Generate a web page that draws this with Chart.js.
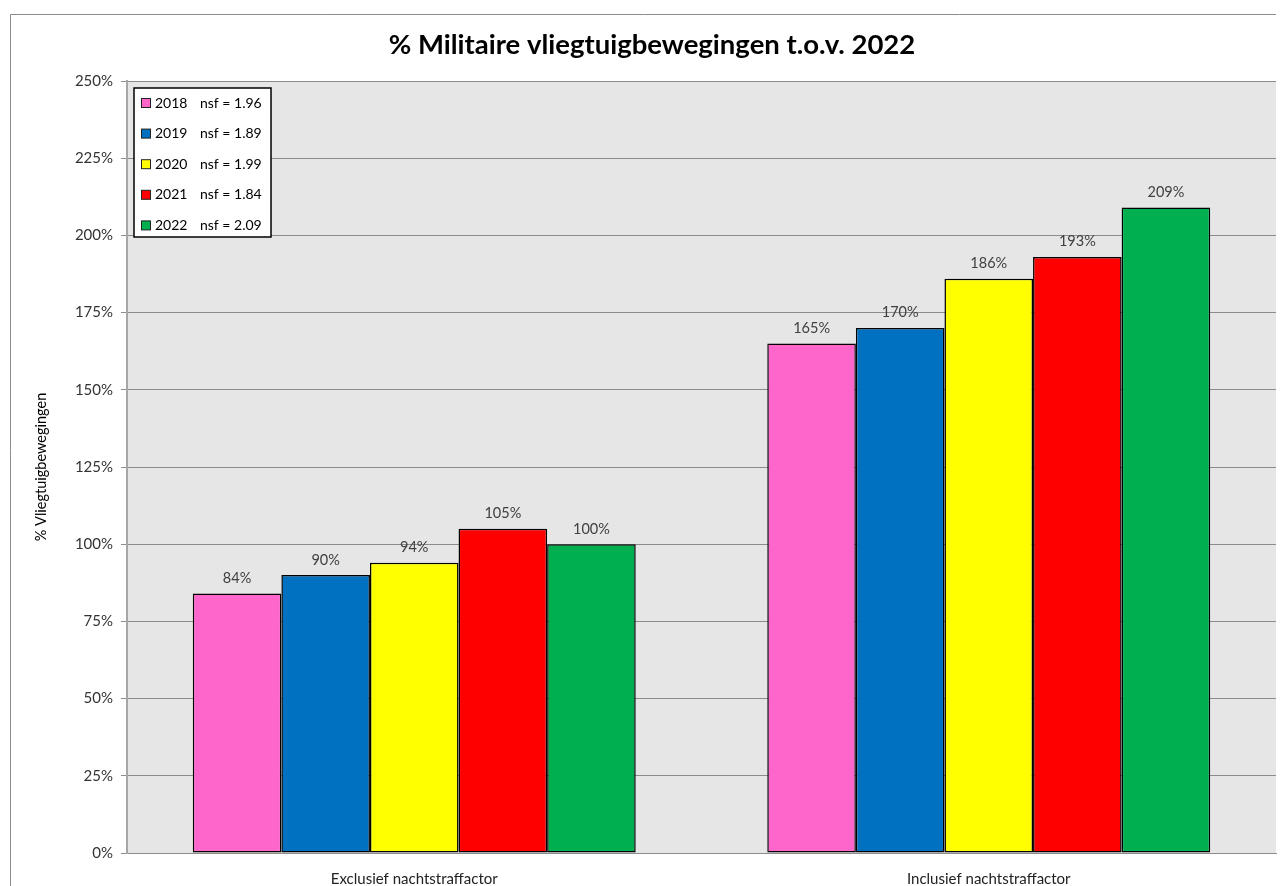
<!DOCTYPE html>
<html>
<head>
<meta charset="utf-8">
<script src="https://cdn.jsdelivr.net/npm/chart.js@4/dist/chart.umd.min.js"></script>
<style>
  body { margin: 0; background: #fff; }
  #wrap { width: 1282px; height: 886px; }
</style>
</head>
<body>
<div id="wrap"><canvas id="militaryChart" width="1282" height="886"></canvas></div>
<script>
// Data
const categories = ['Exclusief nachtstraffactor', 'Inclusief nachtstraffactor'];
const years = ['2018', '2019', '2020', '2021', '2022'];
const nsf = ['1.96', '1.89', '1.99', '1.84', '2.09'];
const exclusief = [84, 90, 94, 105, 100];
const inclusief = [165, 170, 186, 193, 209];
const yTicks = [0, 25, 50, 75, 100, 125, 150, 175, 200, 225, 250];

const colors = ['#FF66CC', '#0070C0', '#FFFF00', '#FF0000', '#00B050'];
const FONT = 'Lato, "Open Sans", sans-serif';

const datasets = years.map((y, i) => ({
    label: y + '   nsf = ' + nsf[i],
    data: [exclusief[i], inclusief[i]],
    backgroundColor: colors[i],
    borderColor: '#000',
    borderWidth: 1.5,
    borderSkipped: false,
    categoryPercentage: 0.771,
    barPercentage: 1.0
}));

// plot background + outer frame (top and left edges only are visible)
const framePlugin = {
    id: 'frame',
    beforeDraw(chart) {
        const { ctx, chartArea: a } = chart;
        ctx.save();
        ctx.strokeStyle = '#8c8c8c';
        ctx.lineWidth = 1;
        ctx.beginPath();
        ctx.moveTo(10.5, 886);
        ctx.lineTo(10.5, 14.5);
        ctx.lineTo(1276, 14.5);
        ctx.stroke();
        ctx.fillStyle = '#E6E6E6';
        ctx.fillRect(a.left, a.top, a.right - a.left, a.bottom - a.top);
        ctx.restore();
    }
};

// value labels above the bars
const valueLabels = {
    id: 'valueLabels',
    afterDatasetsDraw(chart) {
        const ctx = chart.ctx;
        ctx.save();
        ctx.font = '14.5px ' + FONT;
        ctx.fillStyle = '#404040';
        ctx.textAlign = 'center';
        ctx.textBaseline = 'bottom';
        chart.data.datasets.forEach((ds, i) => {
            chart.getDatasetMeta(i).data.forEach((bar, j) => {
                ctx.fillText(ds.data[j] + '%', bar.x, bar.y - 8);
            });
        });
        ctx.restore();
    }
};

// boxed legend inside the plot area
const boxLegend = {
    id: 'boxLegend',
    afterDraw(chart) {
        const { ctx, chartArea: a } = chart;
        const x = a.left + 7, y = a.top + 7, w = 137, h = 149;
        ctx.save();
        ctx.fillStyle = '#fff';
        ctx.fillRect(x, y, w, h);
        ctx.strokeStyle = '#000';
        ctx.lineWidth = 1.5;
        ctx.strokeRect(x, y, w, h);
        ctx.font = '14px ' + FONT;
        ctx.textBaseline = 'middle';
        chart.data.datasets.forEach((ds, i) => {
            const cy = y + 15 + i * 30.6;
            ctx.fillStyle = ds.backgroundColor;
            ctx.fillRect(x + 7.5, cy - 4.5, 9, 9);
            ctx.strokeStyle = '#222';
            ctx.lineWidth = 1;
            ctx.strokeRect(x + 7.5, cy - 4.5, 9, 9);
            ctx.fillStyle = '#000';
            ctx.fillText(years[i], x + 21, cy);
            ctx.fillText('nsf = ' + nsf[i], x + 66, cy);
        });
        ctx.restore();
    }
};

new Chart(document.getElementById('militaryChart'), {
    type: 'bar',
    data: { labels: categories, datasets: datasets },
    options: {
        responsive: false,
        animation: false,
        layout: { padding: { left: 28, right: 6, top: 0, bottom: 0 } },
        plugins: {
            legend: { display: false },
            tooltip: { enabled: false },
            title: {
                display: true,
                text: '% Militaire vliegtuigbewegingen t.o.v. 2022',
                color: '#000',
                font: { family: FONT, size: 27.5, weight: 'bold' },
                padding: { top: 29, bottom: 19 }
            }
        },
        scales: {
            x: {
                grid: { display: false },
                border: { color: '#8c8c8c', width: 1 },
                ticks: { color: '#222', font: { family: FONT, size: 15 }, padding: 9 },
                afterFit(scale) { scale.height = 33; }
            },
            y: {
                min: 0,
                max: 250,
                afterBuildTicks(scale) { scale.ticks = yTicks.map(v => ({ value: v })); },
                grid: { color: '#8c8c8c', tickLength: 6, drawTicks: true },
                border: { color: '#a6a6a6', width: 2 },
                ticks: {
                    color: '#333',
                    font: { family: FONT, size: 15 },
                    padding: 8,
                    callback: v => v + '%'
                },
                title: {
                    display: true,
                    text: '% Vliegtuigbewegingen',
                    color: '#000',
                    font: { family: FONT, size: 14.5 },
                    padding: { top: 5, bottom: 0 }
                },
                afterFit(scale) { scale.width = 99; }
            }
        }
    },
    plugins: [framePlugin, valueLabels, boxLegend]
});
</script>
</body>
</html>
